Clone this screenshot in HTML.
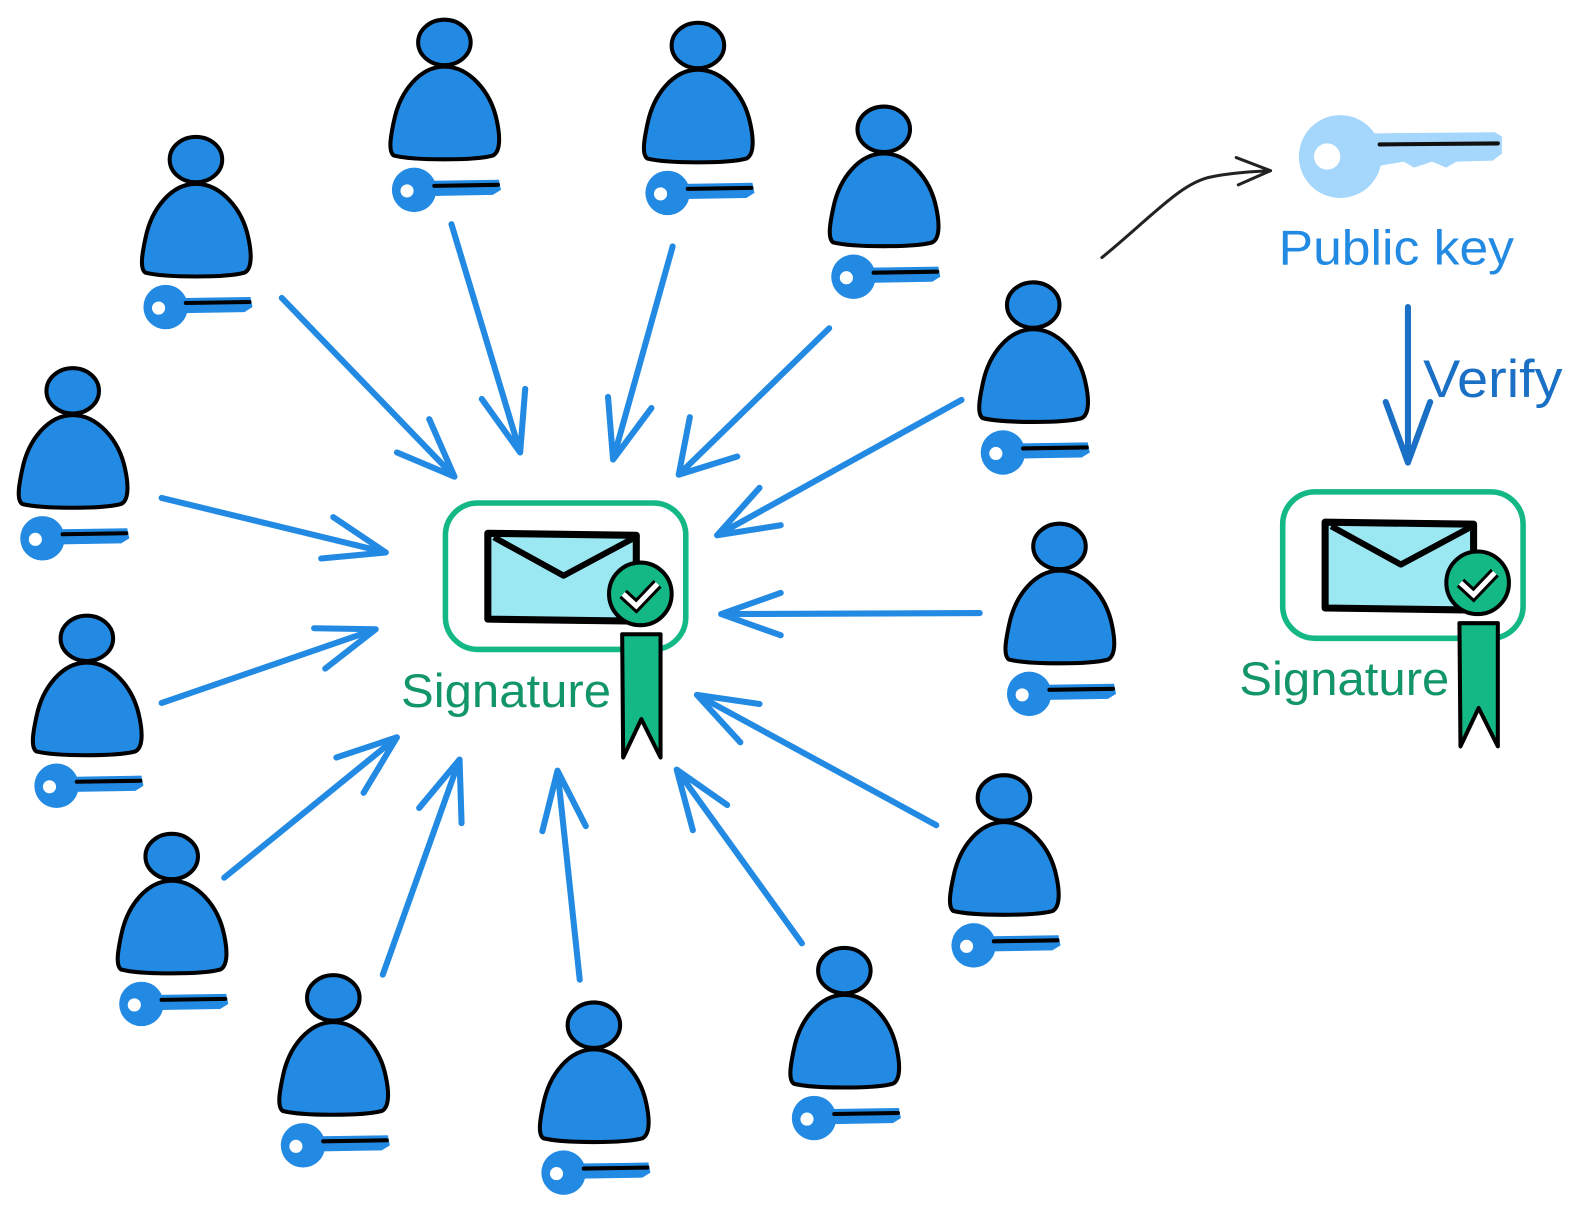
<!DOCTYPE html>
<html><head><meta charset="utf-8"><style>
html,body{margin:0;padding:0;background:#fff;width:1581px;height:1214px;overflow:hidden}
svg{display:block}
text{font-family:"Liberation Sans",sans-serif}
</style></head><body>
<svg width="1581" height="1214" viewBox="0 0 1581 1214" xmlns="http://www.w3.org/2000/svg">
<defs>
<g id="p">
  <path d="M-50,112 C-56,108 -53,92 -50,78 C-44,48 -24,24 0,24 C24,24 46,48 52,78 C55,92 56,108 48,112 C30,117 -30,117 -50,112 Z" fill="#238ae3" stroke="#000" stroke-width="4" stroke-linejoin="round"/>
  <ellipse cx="0" cy="0" rx="26" ry="22.5" fill="#238ae3" stroke="#000" stroke-width="4"/>
  <circle cx="-30" cy="146" r="22" fill="#238ae3"/>
  <path d="M-12,137 L54,136 L56,146 L48,151 L-12,152 Z" fill="#238ae3"/>
  <circle cx="-37" cy="147" r="6.5" fill="#fff"/>
  <line x1="-10" y1="142" x2="53" y2="141" stroke="#000" stroke-width="4" stroke-linecap="round"/>
</g>
<g id="sig">
  <rect x="0" y="0" width="238" height="145" rx="32" fill="#fff" stroke="#13b884" stroke-width="5.5"/>
  <path d="M42,30 L189,32 L189,117 L42,115 Z" fill="#9be8f2" stroke="#000" stroke-width="7" stroke-linejoin="round"/>
  <path d="M48,34 L117,72 L186,35" fill="none" stroke="#000" stroke-width="6" stroke-linejoin="round"/>
  <circle cx="193" cy="90" r="31" fill="#13b884" stroke="#000" stroke-width="4"/>
  <path d="M176,90 L189,102 L210,80" fill="none" stroke="#000" stroke-width="11" stroke-linejoin="miter"/>
  <path d="M176,90 L189,102 L210,80" fill="none" stroke="#fff" stroke-width="5"/>
  <path d="M175,130 L213,130 L213,252 L194,214 L176,252 Z" fill="#13b884" stroke="#000" stroke-width="4" stroke-linejoin="round"/>
</g>
</defs>
<g transform="scale(1.01)">
<g fill="none" stroke="#238ae3" stroke-width="6" stroke-linecap="round" stroke-linejoin="round">
  <path d="M279,295 L450,472 M393,448 L450,472 L425,415"/>
  <path d="M447,222 L515,448 M477,395 L515,448 L520,385"/>
  <path d="M666,244 L607,455 M602,393 L607,455 L645,404"/>
  <path d="M821,325 L672,470 M683,413 L672,470 L730,452"/>
  <path d="M952,396 L710,530 M752,483 L710,530 L773,520"/>
  <path d="M160,493 L382,547 M330,512 L382,547 L318,553"/>
  <path d="M160,696 L372,623 M311,622 L372,623 L322,662"/>
  <path d="M970,607 L714,608 M773,587 L714,608 L773,629"/>
  <path d="M222,869 L393,730 M333,750 L393,730 L360,785"/>
  <path d="M379,965 L455,752 M415,800 L455,752 L457,815"/>
  <path d="M574,970 L552,763 M537,823 L552,763 L580,818"/>
  <path d="M794,934 L670,762 M686,822 L670,762 L720,797"/>
  <path d="M927,817 L690,688 M752,697 L690,688 L733,735"/>
</g>
<use href="#p" x="440" y="42"/>
<use href="#p" x="691" y="45"/>
<use href="#p" x="875" y="128"/>
<use href="#p" x="194" y="158"/>
<use href="#p" x="1023" y="302"/>
<use href="#p" x="72" y="387"/>
<use href="#p" x="1049" y="541"/>
<use href="#p" x="86" y="632"/>
<use href="#p" x="994" y="790"/>
<use href="#p" x="170" y="848"/>
<use href="#p" x="330" y="988"/>
<use href="#p" x="588" y="1015"/>
<use href="#p" x="836" y="961"/>

<use href="#sig" x="441" y="498"/>
<text x="397" y="700" font-size="47" fill="#13956a" textLength="208" lengthAdjust="spacingAndGlyphs">Signature</text>

<use href="#sig" x="1270" y="487"/>
<text x="1227" y="688" font-size="47" fill="#13956a" textLength="208" lengthAdjust="spacingAndGlyphs">Signature</text>

<circle cx="1327" cy="155" r="41" fill="#a5d6fc"/>
<path d="M1360,132 L1480,131 L1487,135 L1487,152 L1478,159 L1442,160 L1432,166 L1418,160 L1400,166 L1390,160 L1360,165 Z" fill="#a5d6fc"/>
<circle cx="1314" cy="155" r="13" fill="#fff"/>
<line x1="1366" y1="143" x2="1483" y2="142" stroke="#111" stroke-width="4" stroke-linecap="round"/>
<text x="1266" y="262" font-size="49" fill="#238ae3" textLength="233" lengthAdjust="spacingAndGlyphs">Public key</text>
<path d="M1091,255 C1140,215 1170,180 1200,175 C1225,170 1245,170 1258,169 M1224,156 L1258,169 L1226,183" fill="none" stroke="#222" stroke-width="3" stroke-linecap="round" stroke-linejoin="round"/>

<path d="M1394,304 L1394,458 M1372,398 L1394,458 L1416,398" fill="none" stroke="#1a70c4" stroke-width="6" stroke-linecap="round" stroke-linejoin="round"/>
<text x="1409" y="393" font-size="52" fill="#1a70c4" textLength="138" lengthAdjust="spacingAndGlyphs">Verify</text>
</g>
</svg>
</body></html>
